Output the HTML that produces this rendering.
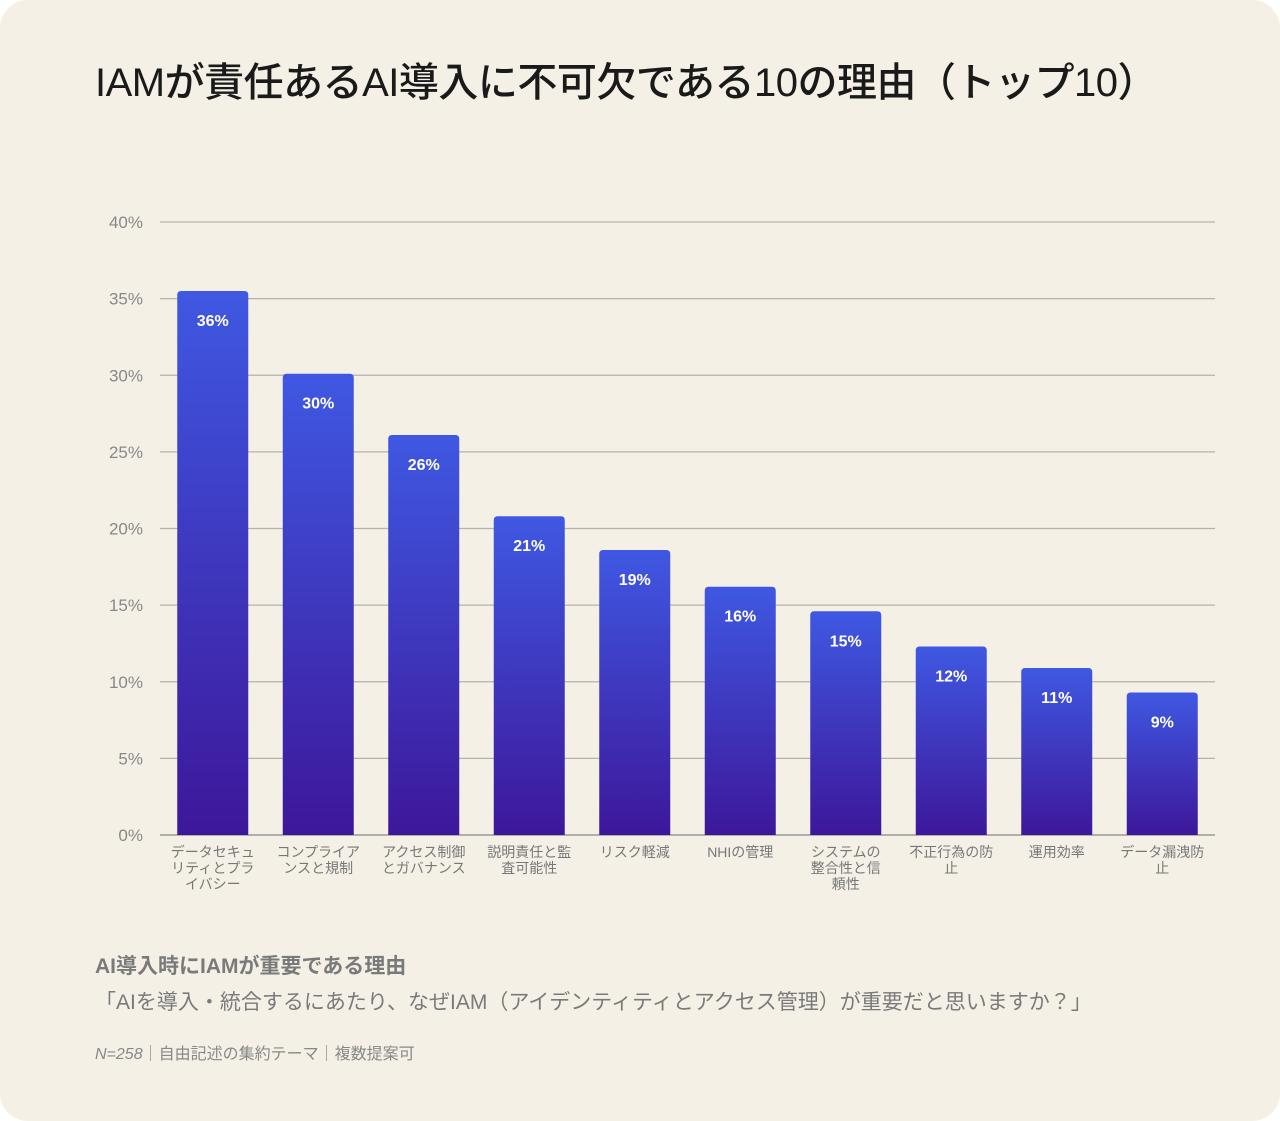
<!DOCTYPE html>
<html><head><meta charset="utf-8">
<style>
html,body{margin:0;padding:0;background:#fff;}
body{width:1280px;height:1121px;overflow:hidden;font-family:"Liberation Sans","Noto Sans CJK JP",sans-serif;}
#card{position:absolute;left:0;top:0;width:1280px;height:1121px;background:#f4f0e6;border-radius:28px;}
h1{position:absolute;left:95px;top:58px;margin:0;width:1100px;font-size:40px;line-height:50px;font-weight:500;color:#1a1a1a;letter-spacing:-0.5px;}
.t{position:absolute;color:#777;}
</style></head><body>
<div id="card">
<h1>IAMが責任あるAI導入に不可欠である10の理由（トップ10）</h1>
<svg id="chart" width="1280" height="1121" style="position:absolute;left:0;top:0">
<defs><linearGradient id="g" x1="0" y1="0" x2="0" y2="1"><stop offset="0" stop-color="#3f58e2"/><stop offset="1" stop-color="#3d179a"/></linearGradient></defs>
</svg>
<div class="t" style="left:95px;top:950px;font-size:21px;font-weight:bold;color:#7a7a7a;">AI導入時にIAMが重要である理由</div>
<div class="t" style="left:95px;top:986px;font-size:21px;color:#7a7a7a;">「AIを導入・統合するにあたり、なぜIAM（アイデンティティとアクセス管理）が重要だと思いますか？」</div>
<div class="t" style="left:95px;top:1040px;font-size:16px;color:#888;"><i>N=258</i>｜自由記述の集約テーマ｜複数提案可</div>
</div>
<script>
const categories=[["データセキュ","リティとプラ","イバシー"],["コンプライア","ンスと規制"],["アクセス制御","とガバナンス"],["説明責任と監","査可能性"],["リスク軽減"],["NHIの管理"],["システムの","整合性と信","頼性"],["不正行為の防","止"],["運用効率"],["データ漏洩防","止"]];
const values=[35.5,30.1,26.1,20.8,18.6,16.2,14.6,12.3,10.9,9.3];
const valueLabels=["36%","30%","26%","21%","19%","16%","15%","12%","11%","9%"];
const ticks=[0,5,10,15,20,25,30,35,40];
const NS="http://www.w3.org/2000/svg";
const svg=document.getElementById('chart');
const x0=160,x1=1215,y0=835,y1=222,vmax=40;
const y=v=>y0-(v/vmax)*(y0-y1);
const band=(x1-x0)/categories.length,bw=71;
const xc=i=>x0+band*(i+0.5);
function mk(t,a){const e=document.createElementNS(NS,t);for(const k in a)e.setAttribute(k,a[k]);svg.appendChild(e);return e;}
ticks.forEach(v=>{
 const l=mk('line',{x1:x0,x2:x1,y1:y(v),y2:y(v),stroke:v===0?'#999':'#b5b2ab','stroke-width':v===0?1.5:1.2});
 
 
 const t=mk('text',{x:143,y:y(v)+6,'text-anchor':'end','font-size':17,fill:'#888'});
 t.textContent=v+'%';
 
 
});
values.forEach((v,i)=>{
 const top=y(v),h=y0-top,r=4,xl=xc(i)-bw/2;
 const p=mk('path',{d:`M${xl},${y0}V${top+r}Q${xl},${top} ${xl+r},${top}H${xl+bw-r}Q${xl+bw},${top} ${xl+bw},${top+r}V${y0}Z`,fill:'url(#g)'});
 
 
 const t=mk('text',{x:xc(i),y:top+35,'text-anchor':'middle','font-size':16,'font-weight':'bold',fill:'#fff'});
 t.textContent=valueLabels[i];
 
 
 categories[i].forEach((s,j)=>{
  const c=mk('text',{x:xc(i),y:857+j*16,'text-anchor':'middle','font-size':14,fill:'#777'});
  c.textContent=s;
  
  
 });
});
</script>
</body></html>
